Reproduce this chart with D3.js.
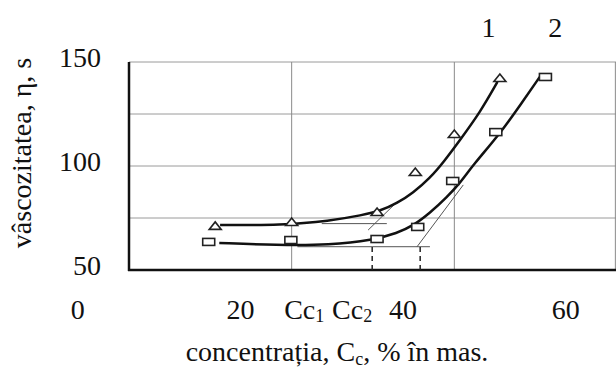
<!DOCTYPE html>
<html><head><meta charset="utf-8">
<script src="https://cdn.jsdelivr.net/npm/d3@7"></script>
<style>
html,body{margin:0;padding:0;background:#fff;}
svg{display:block;}
text{font-family:"Liberation Serif","Times New Roman",serif;fill:#111;}
</style></head>
<body>
<svg id="chart" width="616" height="369"></svg>
<script>
// ---- data ----
const xTicks = [0, 20, 40, 60];
const yTicks = [50, 100, 150];
const xGrid = [26.3, 46.3, 66.1];
const yGrid = [75, 100, 125, 150];
const seriesNames = ["1", "2"];
const legendX = [50.5, 58.7];
// markers (measured points)
const s1X = [16.9, 26.3, 36.8, 41.5, 46.3, 51.9];
const s1Y = [71.2, 73.1, 77.9, 97.1, 115.4, 142.3];
const s2X = [16.1, 26.2, 36.8, 41.8, 46.1, 51.4, 57.5];
const s2Y = [63.5, 64.4, 64.9, 70.7, 92.8, 116.3, 142.8];
// fitted curves
const c1X = [17.5, 25, 31, 35, 37.2, 39.3, 41.2, 43.3, 45, 47, 49.5, 51.6];
const c1Y = [71.6, 71.6, 73.6, 76.4, 78.4, 82.2, 87.0, 94.2, 102, 112.5, 126, 140.4];
const c2X = [17.4, 24.5, 31, 36.3, 39.3, 41.2, 43.3, 45.4, 47, 48.6, 51.9, 54.4, 56.8];
const c2Y = [63.0, 62.0, 62.0, 64.4, 67.8, 71.2, 77.4, 85.1, 91.8, 100.5, 115.5, 129.3, 142.8];
// construction lines
const cc = [36.2, 42.1];
const ccNames = ["Cc", "Cc"];
const ccSubs = ["1", "2"];
const ccBaseY = 61.1;
const tan1X = [35.7, 39.25], tan1Y = [69.2, 82.7];
const tan2X = [41.7, 47.4], tan2Y = [61.1, 90.9];
const hor1X = [30, 38.0], hor1Y = 72.3;
const hor2X = [27, 43.3], hor2Y = 61.2;

const svg = d3.select("#chart");
const x = d3.scaleLinear().domain([6.3, 66.3]).range([129, 617]);
const y = d3.scaleLinear().domain([50, 150]).range([270, 62]);
const [x0, x1] = x.domain();
const [y0, y1] = y.domain();

// grid
const g = svg.append("g");
g.selectAll(".hg").data(yGrid).enter().append("line")
  .attr("x1", x(x0)).attr("x2", x(x1)).attr("y1", d => y(d)).attr("y2", d => y(d))
  .attr("stroke", "#9a9a9a").attr("stroke-width", 1);
g.selectAll(".vg").data(xGrid).enter().append("line")
  .attr("x1", d => x(d)).attr("x2", d => x(d)).attr("y1", y(y0)).attr("y2", y(y1))
  .attr("stroke", "#8a8a8a").attr("stroke-width", 1);
// axes frame
g.append("line").attr("x1", x(x0)).attr("x2", x(x0)).attr("y1", y(y1)).attr("y2", y(y0) + 1)
  .attr("stroke", "#111").attr("stroke-width", 2.5);
g.append("line").attr("x1", x(x0) - 1).attr("x2", x(x1)).attr("y1", y(y0)).attr("y2", y(y0))
  .attr("stroke", "#111").attr("stroke-width", 2.5);

// construction lines
const thin = (ax, ay, bx, by) => svg.append("line")
  .attr("x1", x(ax)).attr("y1", y(ay)).attr("x2", x(bx)).attr("y2", y(by))
  .attr("stroke", "#555").attr("stroke-width", 1);
thin(hor1X[0], hor1Y, hor1X[1], hor1Y);
thin(hor2X[0], hor2Y, hor2X[1], hor2Y);
thin(tan1X[0], tan1Y[0], tan1X[1], tan1Y[1]);
thin(tan2X[0], tan2Y[0], tan2X[1], tan2Y[1]);
svg.selectAll(".cc").data(cc).enter().append("line")
  .attr("x1", d => x(d)).attr("x2", d => x(d)).attr("y1", y(ccBaseY)).attr("y2", y(y0))
  .attr("stroke", "#222").attr("stroke-width", 1.5).attr("stroke-dasharray", "5,4");

// curves
const line = d3.line().x(d => x(d[0])).y(d => y(d[1])).curve(d3.curveBasis);
[[c1X, c1Y], [c2X, c2Y]].forEach(([cx, cy]) => {
  svg.append("path").datum(cx.map((v, i) => [v, cy[i]]))
    .attr("d", line).attr("fill", "none").attr("stroke", "#111").attr("stroke-width", 2.5);
});

// markers
svg.selectAll(".tri").data(s1X.map((v, i) => [v, s1Y[i]])).enter().append("path")
  .attr("d", d => { const cx = x(d[0]), cy = y(d[1]);
    return `M${cx - 6},${cy + 3.5}L${cx + 6},${cy + 3.5}L${cx},${cy - 4}Z`; })
  .attr("fill", "#fff").attr("stroke", "#222").attr("stroke-width", 1.6);
svg.selectAll(".sq").data(s2X.map((v, i) => [v, s2Y[i]])).enter().append("rect")
  .attr("x", d => x(d[0]) - 6).attr("y", d => y(d[1]) - 3.5).attr("width", 12).attr("height", 7)
  .attr("fill", "#fff").attr("stroke", "#222").attr("stroke-width", 1.6);

// tick labels
svg.selectAll(".xt").data(xTicks).enter().append("text")
  .attr("x", d => x(d)).attr("y", 319).attr("text-anchor", "middle")
  .attr("font-size", 28).text(d => d);
svg.selectAll(".yt").data(yTicks).enter().append("text")
  .attr("x", 101).attr("y", d => y(d) + 5).attr("text-anchor", "end")
  .attr("font-size", 28).text(d => d);
// Cc labels
const ccT = svg.selectAll(".ccl").data(cc).enter().append("text")
  .attr("x", d => x(d) - 68).attr("y", 319).attr("text-anchor", "middle").attr("font-size", 28);
ccT.append("tspan").text((d, i) => ccNames[i]);
ccT.append("tspan").attr("font-size", 18).attr("dy", 3).text((d, i) => ccSubs[i]);

// legend numbers
svg.selectAll(".lg").data(seriesNames).enter().append("text")
  .attr("x", (d, i) => x(legendX[i])).attr("y", 37).attr("text-anchor", "middle")
  .attr("font-size", 28).text(d => d);

// axis titles
const xt = svg.append("text").attr("x", 337).attr("y", 361).attr("text-anchor", "middle").attr("font-size", 28);
xt.append("tspan").text("concentrația, C");
xt.append("tspan").attr("font-size", 18).attr("dy", 4).text("c");
xt.append("tspan").attr("dy", -4).text(", % în mas.");
svg.append("text").attr("transform", "translate(31,153) rotate(-90)")
  .attr("text-anchor", "middle").attr("font-size", 28).text("vâscozitatea, η, s");
</script>
</body></html>
